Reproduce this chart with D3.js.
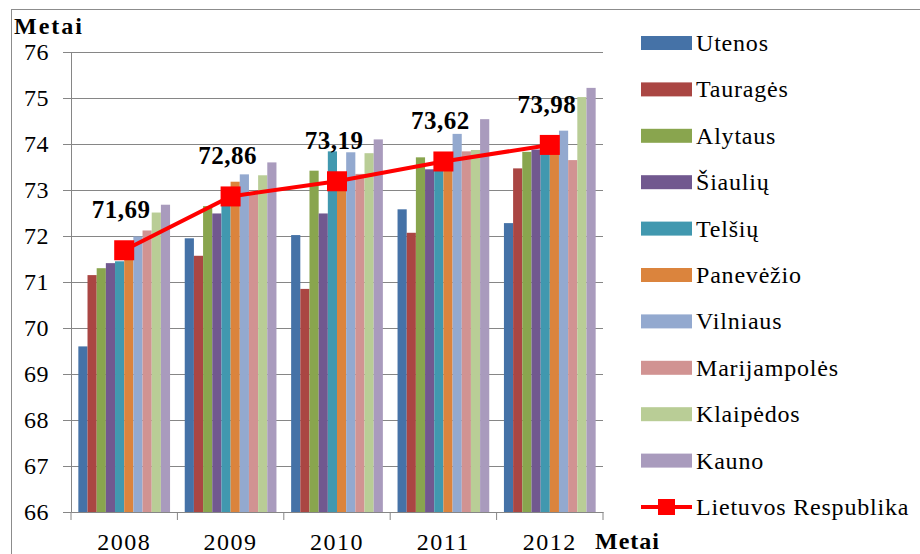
<!DOCTYPE html>
<html>
<head>
<meta charset="utf-8">
<script src="https://cdn.jsdelivr.net/npm/d3@7"></script>
<style>
  body { margin: 0; background: #fff; }
  svg text { font-family: "Times New Roman", "Liberation Serif", Tinos, Times, serif !important; fill: #000; }
  .axis text { font-size: 24px; }
  .axis path, .axis line { stroke: #868686; }
</style>
</head>
<body>
<svg width="920" height="554"></svg>
<script>
var years = ['2008', '2009', '2010', '2011', '2012'];
var regions = ['Utenos', 'Tauragės', 'Alytaus', 'Šiaulių', 'Telšių', 'Panevėžio',
               'Vilniaus', 'Marijampolės', 'Klaipėdos', 'Kauno'];
var colors = ['#4572A7', '#AA4643', '#89A54E', '#71588F', '#4198AF', '#DB843D',
              '#93A9CF', '#D19392', '#B9CD96', '#A99BBD'];

var utenos       = [69.60, 71.95, 72.02, 72.58, 72.28];
var taurages     = [71.15, 71.57, 70.85, 72.07, 73.47];
var alytaus      = [71.30, 72.65, 73.42, 73.71, 73.83];
var siauliu      = [71.41, 72.49, 72.49, 73.45, 73.88];
var telsiu       = [71.45, 72.75, 73.84, 73.42, 73.90];
var panevezio    = [71.60, 73.18, 73.25, 73.60, 73.95];
var vilniaus     = [71.99, 73.34, 73.82, 74.22, 74.29];
var marijampoles = [72.12, 72.96, 73.35, 73.84, 73.65];
var klaipedos    = [72.51, 73.32, 73.80, 73.87, 75.02];
var kauno        = [72.68, 73.60, 74.10, 74.54, 75.22];
var lietuva      = [71.69, 72.86, 73.19, 73.62, 73.98];
var lietuvaLabels = ['71,69', '72,86', '73,19', '73,62', '73,98'];
var yTicks = [66, 67, 68, 69, 70, 71, 72, 73, 74, 75, 76];

var series = [utenos, taurages, alytaus, siauliu, telsiu, panevezio,
              vilniaus, marijampoles, klaipedos, kauno];

var svg = d3.select('svg');

// outer frame of the chart
svg.append('rect')
  .attr('x', 11.5).attr('y', 9.5)
  .attr('width', 1000).attr('height', 1000)
  .attr('fill', 'none')
  .attr('stroke', '#8c8c8c')
  .attr('stroke-width', 1);

var y = d3.scaleLinear().domain([66, 76]).range([512, 52]);
var x0 = d3.scaleBand().domain(years).range([71, 603]);
var x1 = d3.scaleBand().domain(regions).range([0, x0.bandwidth()])
  .paddingInner(0).paddingOuter(0.8);

// grid lines
svg.append('g')
  .attr('class', 'axis grid')
  .attr('transform', 'translate(71,0)')
  .call(d3.axisLeft(y).tickValues(yTicks.slice(1)).tickSize(-532).tickFormat(''))
  .call(g => g.select('.domain').remove());

// bars
var groups = svg.append('g').selectAll('g')
  .data(years)
  .enter().append('g')
    .attr('transform', d => 'translate(' + x0(d) + ',0)');

groups.selectAll('rect')
  .data((yr, i) => regions.map((r, k) => ({ region: r, value: series[k][i], color: colors[k] })))
  .enter().append('rect')
    .attr('x', d => x1(d.region))
    .attr('y', d => y(d.value))
    .attr('width', x1.bandwidth())
    .attr('height', d => y(66) - y(d.value))
    .attr('fill', d => d.color);

// axes
svg.append('g')
  .attr('class', 'axis')
  .attr('transform', 'translate(71,0)')
  .call(d3.axisLeft(y).tickValues(yTicks).tickSize(8).tickPadding(14).tickFormat(d3.format('d')))
  .call(g => g.selectAll('text').attr('dy', '0.33em').attr('letter-spacing', 0.5));

svg.append('g')
  .attr('class', 'axis')
  .attr('transform', 'translate(0,512)')
  .call(d3.axisBottom(x0).tickSize(0).tickPadding(38))
  .call(g => g.selectAll('text').attr('dy', 0).attr('letter-spacing', 1.5));

// category ticks on the x axis (at band boundaries)
svg.append('g').selectAll('line')
  .data(years.concat(['end']))
  .enter().append('line')
    .attr('x1', (d, i) => i < years.length ? x0(d) : x0.range()[1])
    .attr('x2', (d, i) => i < years.length ? x0(d) : x0.range()[1])
    .attr('y1', 512).attr('y2', 520)
    .attr('stroke', '#868686');

// Lietuvos Respublika line
var cx = d => x0(d) + x0.bandwidth() / 2;
var line = d3.line()
  .x((d, i) => cx(years[i]))
  .y(d => y(d));

svg.append('path')
  .datum(lietuva)
  .attr('d', line)
  .attr('fill', 'none')
  .attr('stroke', '#FF0000')
  .attr('stroke-width', 4);

svg.append('g').selectAll('rect')
  .data(lietuva)
  .enter().append('rect')
    .attr('x', (d, i) => cx(years[i]) - 10)
    .attr('y', d => y(d) - 10)
    .attr('width', 20).attr('height', 20)
    .attr('fill', '#FF0000');

svg.append('g').selectAll('text')
  .data(lietuva)
  .enter().append('text')
    .attr('x', (d, i) => cx(years[i]) - 3)
    .attr('y', d => y(d) - 32)
    .attr('text-anchor', 'middle')
    .attr('font-size', 25)
    .attr('font-weight', 'bold')
    .attr('letter-spacing', 0.5)
    .text((d, i) => lietuvaLabels[i]);

// axis titles
svg.append('text')
  .attr('x', 14).attr('y', 34)
  .attr('font-size', 24).attr('font-weight', 'bold')
  .attr('letter-spacing', 2)
  .text('Metai');

svg.append('text')
  .attr('x', 595).attr('y', 549)
  .attr('font-size', 24).attr('font-weight', 'bold')
  .attr('letter-spacing', 1)
  .text('Metai');

// legend
var legend = svg.append('g').attr('transform', 'translate(641,0)');
var legendY = d3.scalePoint()
  .domain(regions.concat(['Lietuvos Respublika']))
  .range([43, 507]);

legend.selectAll('rect.key')
  .data(regions)
  .enter().append('rect')
    .attr('class', 'key')
    .attr('x', 0)
    .attr('y', d => legendY(d) - 7)
    .attr('width', 51).attr('height', 14)
    .attr('fill', (d, i) => colors[i]);

legend.append('line')
  .attr('x1', 0).attr('x2', 51)
  .attr('y1', legendY('Lietuvos Respublika'))
  .attr('y2', legendY('Lietuvos Respublika'))
  .attr('stroke', '#FF0000').attr('stroke-width', 4);

legend.append('rect')
  .attr('x', 17).attr('y', legendY('Lietuvos Respublika') - 8)
  .attr('width', 17).attr('height', 16)
  .attr('fill', '#FF0000');

legend.selectAll('text')
  .data(regions.concat(['Lietuvos Respublika']))
  .enter().append('text')
    .attr('x', 55)
    .attr('y', d => legendY(d))
    .attr('dy', '0.33em')
    .attr('font-size', 24)
    .attr('letter-spacing', 0.8)
    .text(d => d);
</script>
</body>
</html>
